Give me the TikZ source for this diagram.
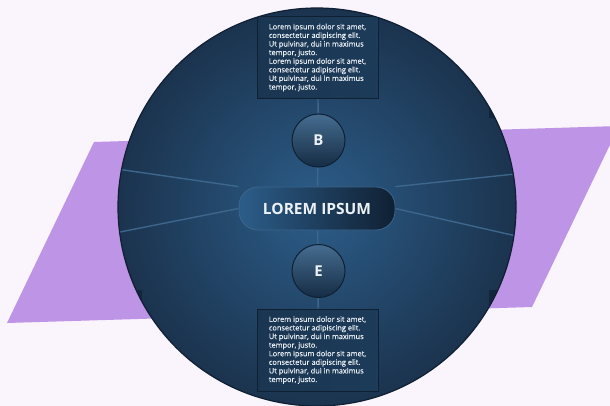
\documentclass[tikz,border=0pt]{standalone}
\usepackage{fontspec}
\setmainfont{Open Sans}
\newfontfamily\boxfont[FakeBold=0.5]{Open Sans}
\definecolor{pagebg}{RGB}{250,244,253}
\definecolor{lilac}{RGB}{190,148,230}
\definecolor{navyout}{RGB}{27,51,78}
\definecolor{navyin}{RGB}{44,93,137}
\definecolor{navydark}{RGB}{16,32,51}
\definecolor{spokeblue}{RGB}{60,102,140}
\definecolor{inkwhite}{RGB}{236,241,246}
\tikzset{
    textbox/.style={rectangle, draw=navydark, line width=.8pt,
    	left color=navydark!65!navyin, middle color=navyin,
    	right color=navydark!55!navyin, minimum width=121pt,
    	minimum height=82pt, inner sep=0pt, align=left,
    	text=inkwhite, font=\boxfont\fontsize{7.4}{8.6}\selectfont}
}
\tikzset{
    letterdisc/.style={circle, draw=navydark, line width=1pt,
    	top color=navyin!85!white!90!navydark, bottom color=navydark!80!navyin,
    	minimum size=53pt, text=inkwhite, font=\fontsize{15}{15}\selectfont\bfseries}
}
\tikzset{
    titlepill/.style={rectangle, rounded corners=19pt, draw=spokeblue,
    	line width=.8pt, left color=navyin, right color=navydark,
    	minimum width=156pt, minimum height=43pt, text=inkwhite,
    	font=\fontsize{15.5}{16}\selectfont\bfseries}
}
\tikzset{
    spoke/.style={draw=spokeblue, line width=1.4pt}
}
\pgfdeclarelayer{back}
\pgfdeclarelayer{background}
\pgfsetlayers{back,background,main}

\begin{document}
\begin{tikzpicture}[x=1pt, y=-1pt]
  \useasboundingbox (0,0) rectangle (610,406);
  \coordinate (c) at (317,207);
  \coordinate (l1) at (110,168);
  \coordinate (l2) at (110,234);
  \coordinate (r1) at (525,173);
  \coordinate (r2) at (525,238);

  \begin{pgfonlayer}{back}
    \fill[pagebg] (0,0) rectangle (610,406);
    \fill[lilac] (94,142) -- (619,126) -- (532,307) -- (7,323) -- cycle;
    \shade[inner color=navyin, outer color=navyout] (c) circle (199pt);
  \end{pgfonlayer}

  \begin{scope}
    \clip (c) circle (199pt);
    \fill[navydark, opacity=.7] (489,118) rectangle (560,40);
    \fill[navydark, opacity=.7] (489,290) rectangle (560,380);
    \fill[navydark, opacity=.7] (142,290) rectangle (80,380);
    \node (top) [textbox] at (317.5,57.5) {Lorem ipsum dolor sit amet,\\
      consectetur adipiscing elit.\\ Ut pulvinar, dui in maximus\\
      tempor, justo.\\ Lorem ipsum dolor sit amet,\\
      consectetur adipiscing elit.\\ Ut pulvinar, dui in maximus\\
      tempor, justo.};
    \node (bot) [textbox] at (317.5,350) {Lorem ipsum dolor sit amet,\\
      consectetur adipiscing elit.\\ Ut pulvinar, dui in maximus\\
      tempor, justo.\\ Lorem ipsum dolor sit amet,\\
      consectetur adipiscing elit.\\ Ut pulvinar, dui in maximus\\
      tempor, justo.};
    \node (b) [letterdisc] at (318.5,140.5) {B};
    \node (e) [letterdisc] at (318.5,271) {E};
    \node (lorem) [titlepill] at (317,208.5) {LOREM IPSUM};
  \end{scope}
  \draw[navydark, line width=1.2pt] (c) circle (199pt);

  \begin{pgfonlayer}{background}
    \begin{scope}
      \clip (c) circle (199pt);
      \draw[spoke] (top) edge (b); \draw[spoke] (b) edge (lorem);
      \draw[spoke] (lorem) edge (e); \draw[spoke] (e) edge (bot);
      \draw[spoke] (lorem.north west) edge (l1);
      \draw[spoke] (lorem.west) edge (l2);
      \draw[spoke] (lorem.north east) edge (r1);
      \draw[spoke] (lorem.east) edge (r2);
    \end{scope}
  \end{pgfonlayer}
\end{tikzpicture}
\end{document}
